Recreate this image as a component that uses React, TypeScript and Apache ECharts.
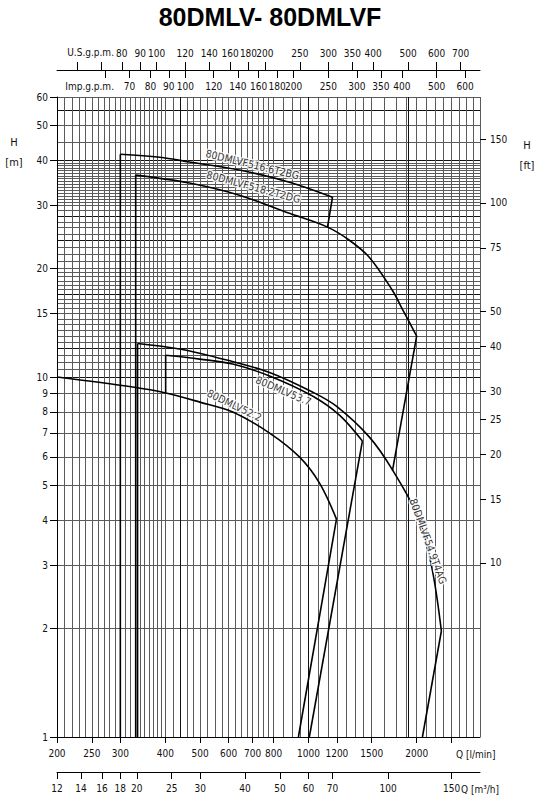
import { useEffect, useRef } from 'react';
import * as echarts from 'echarts';

// Q in l/min, H in m; both axes are logarithmic
const flowRange = [200, 3000];
const headRange = [1, 60];

const lpmTicks = [200, 250, 300, 400, 500, 600, 700, 800, 1000, 1200, 1500, 2000, 2500];
const lpmLabels = [200, 250, 300, 400, 500, 600, 700, 800, 1000, 1200, 1500, 2000];
const m3hTicks = [12, 14, 16, 18, 20, 25, 30, 40, 50, 60, 70, 100, 150];
const usTicks = [60, 70, 80, 90, 100, 120, 140, 160, 180, 200, 250, 300, 350, 400, 500, 600, 700];
const usLabels = [80, 90, 100, 120, 140, 160, 180, 200, 250, 300, 350, 400, 500, 600, 700];
const impTicks = [60, 70, 80, 90, 100, 120, 140, 160, 180, 200, 250, 300, 350, 400, 500, 600];
const impLabels = [70, 80, 90, 100, 120, 140, 160, 180, 200, 250, 300, 350, 400, 500, 600];
const mTicks = [1, 2, 3, 4, 5, 6, 7, 8, 9, 10, 15, 20, 30, 40, 50, 60];
const ftTicks = [10, 15, 20, 25, 30, 40, 50, 75, 100, 150];

// unit factors from l/min and m
const M3H = 0.06;
const US = 0.264172;
const IMP = 0.219969;
const FT = 3.28084;

// pump curves [Q l/min, H m]
const vf516Curve = [[300, 41.6], [386, 40.8], [467, 39.6], [643, 37.6], [886, 34.8], [1167, 31.6]];
const vf516Lines = [[[300, 1], [300, 41.6]], [[1167, 31.6], [1130, 26.1]]];

const vf518Curve = [[331, 36.4], [467, 34.6], [643, 32.0], [886, 28.5], [1130, 26.1], [1300, 24.0], [1478, 21.5], [1713, 17.4], [1828, 15.4], [2000, 13.0]];
const vf518Lines = [[[331, 1], [331, 36.4]], [[2000, 13.0], [1713, 5.5]]];

const vf549Curve = [[335, 12.4], [438, 11.97], [593, 11.15], [780, 10.3], [1026, 9.09], [1196, 8.3], [1478, 6.81], [1713, 5.52], [2035, 4.01], [2211, 2.91], [2343, 1.97]];
const vf549Lines = [[[335, 1], [335, 12.4]], [[2343, 1.97], [2075, 1]]];

const v537Curve = [[401, 11.5], [499, 11.22], [616, 10.87], [780, 10.07], [1026, 8.86], [1220, 7.84], [1413, 6.64]];
const v537Lines = [[[401, 9.03], [401, 11.5]], [[1413, 6.64], [1006, 1]]];

const v522Curve = [[200, 10], [325, 9.38], [401, 9.03], [499, 8.52], [616, 8.0], [780, 6.99], [944, 6.0], [1073, 5.08], [1197, 4.03]];
const v522Lines = [[[1197, 4.03], [938, 1]]];

const curveNames = ['80DMLVF516.6T2BG', '80DMLVF518.2T2DG', '80DMLV53.7', '80DMLV52.2', '80DMLVF54.9T4AG'];
const labelFlow = [699, 704, 853, 623, 2156];
const labelHead = [39.0, 33.8, 9.17, 8.36, 3.5];
const labelAngle = [-13.7, -15.2, -23, -25.7, -70];

const steps = (a: number, b: number, s: number) => {
  const out: number[] = [];
  for (let v = a; v < b - 1e-9; v += s) out.push(+v.toFixed(3));
  return out;
};

const flowGrid = [
  ...steps(200, 400, 10), ...steps(400, 500, 20), ...steps(500, 800, 25), ...steps(800, 1000, 50),
  1000, 1067, 1133, ...steps(1200, 1500, 75), ...steps(1500, 3000, 125), 3000,
];
const flowGridDark = [440, 1000, 1900];
const headGrid = [
  ...steps(1, 10, 1), ...steps(10, 20, 0.5), ...steps(20, 30, 1), ...steps(30, 40, 0.625), ...steps(40, 60, 5), 60,
];
const headGridDark = [10, 12, 17, 24, 28, 40, 55];

const lg = Math.log10;
const NARROW = "'Liberation Sans Narrow', 'Arial Narrow', 'DejaVu Sans Condensed', sans-serif";
const pt = (p: number[]) => [lg(p[0]), lg(p[1])];
const fmt = (v: number) => String(Math.round(Math.pow(10, v)));
const labelFont = { fontFamily: NARROW, fontSize: 10, color: '#111', hideOverlap: false };

function scaleAxis(min: number, max: number, extra: any) {
  return {
    type: 'value',
    min: lg(min),
    max: lg(max),
    axisLine: { show: true, onZero: false, lineStyle: { color: '#000', width: 1 } },
    splitLine: { show: false },
    ...extra,
  };
}

function gridAxis(min: number, max: number, values: number[], color: string, extra: any) {
  return {
    type: 'value',
    min: lg(min),
    max: lg(max),
    axisLine: { show: false, onZero: false },
    axisTick: { show: false, customValues: values.map(lg) },
    axisLabel: { show: false },
    splitLine: { show: true, lineStyle: { color, width: 1 } },
    ...extra,
  };
}

function line(data: number[][], smooth: number | boolean) {
  return {
    type: 'line',
    xAxisIndex: 0,
    yAxisIndex: 0,
    data: data.map(pt),
    symbol: 'none',
    smooth,
    silent: true,
    z: 5,
    lineStyle: { color: '#000', width: 1.6 },
  };
}

export default function App() {
  const ref = useRef<HTMLDivElement>(null);

  useEffect(() => {
    if (!ref.current) return;
    const chart = echarts.init(ref.current, null, { renderer: 'svg' });

    const series: any[] = [];
    [vf516Curve, vf518Curve, vf549Curve, v537Curve, v522Curve].forEach((c) => series.push(line(c, 0.35)));
    [...vf516Lines, ...vf518Lines, ...vf549Lines, ...v537Lines, ...v522Lines].forEach((s) => series.push(line(s, false)));
    series.push({
      type: 'scatter',
      xAxisIndex: 0,
      yAxisIndex: 0,
      symbolSize: 1,
      silent: true,
      z: 6,
      itemStyle: { color: 'transparent' },
      data: curveNames.map((n, i) => ({
        name: n,
        value: pt([labelFlow[i], labelHead[i]]),
        label: { rotate: labelAngle[i] },
      })),
      label: {
        show: true,
        position: 'inside',
        formatter: '{b}',
        fontFamily: NARROW,
        fontSize: 10.5,
        color: '#000',
        textBorderColor: '#fff',
        textBorderWidth: 3,
      },
    });

    const txt = (text: string, x: number, y: number, align: string, size = 11) => ({
      type: 'text',
      x,
      y,
      silent: true,
      style: { text, x: 0, y: 0, align, verticalAlign: 'middle', font: `${size}px ${NARROW}`, fill: '#111' },
    });

    chart.setOption({
      animation: false,
      backgroundColor: '#fff',
      grid: { left: 57, top: 97, width: 423, height: 640, containLabel: false, outerBoundsMode: 'none' },
      xAxis: [
        scaleAxis(flowRange[0], flowRange[1], {
          position: 'bottom',
          axisTick: { customValues: lpmTicks.map(lg), length: 6, lineStyle: { color: '#000' } },
          axisLabel: { customValues: lpmLabels.map(lg), formatter: fmt, margin: 11, ...labelFont },
        }),
        scaleAxis(flowRange[0] * M3H, flowRange[1] * M3H, {
          position: 'bottom',
          offset: 35,
          axisTick: { customValues: m3hTicks.map(lg), length: 7, lineStyle: { color: '#000' } },
          axisLabel: { customValues: m3hTicks.map(lg), formatter: fmt, margin: 11, ...labelFont },
        }),
        scaleAxis(flowRange[0] * US, flowRange[1] * US, {
          position: 'top',
          offset: 27,
          axisTick: { customValues: usTicks.map(lg), length: 8, lineStyle: { color: '#000' } },
          axisLabel: { customValues: usLabels.map(lg), formatter: fmt, margin: 12, ...labelFont },
        }),
        scaleAxis(flowRange[0] * IMP, flowRange[1] * IMP, {
          position: 'top',
          offset: 27,
          axisLine: { show: false, onZero: false },
          axisTick: { customValues: impTicks.map(lg), inside: true, length: 8, lineStyle: { color: '#000' } },
          axisLabel: { customValues: impLabels.map(lg), inside: true, formatter: fmt, margin: 11, ...labelFont },
        }),
        gridAxis(flowRange[0], flowRange[1], flowGrid, '#5a5a5a', { position: 'bottom' }),
        gridAxis(flowRange[0], flowRange[1], flowGridDark, '#111', { position: 'bottom' }),
      ],
      yAxis: [
        scaleAxis(headRange[0], headRange[1], {
          position: 'left',
          axisTick: { customValues: mTicks.map(lg), length: 7, lineStyle: { color: '#000' } },
          axisLabel: { customValues: mTicks.map(lg), formatter: fmt, margin: 9, ...labelFont },
        }),
        scaleAxis(headRange[0] * FT, headRange[1] * FT, {
          position: 'right',
          axisLine: { show: false, onZero: false },
          axisTick: { customValues: ftTicks.map(lg), length: 6, lineStyle: { color: '#000' } },
          axisLabel: { customValues: ftTicks.map(lg), formatter: fmt, margin: 10, ...labelFont },
        }),
        gridAxis(headRange[0], headRange[1], headGrid, '#5a5a5a', { position: 'left' }),
        gridAxis(headRange[0], headRange[1], headGridDark, '#111', { position: 'left' }),
      ],
      graphic: [
        {
          type: 'text',
          x: 270,
          y: 17,
          silent: true,
          style: {
            text: '80DMLV- 80DMLVF',
            align: 'center',
            verticalAlign: 'middle',
            font: 'bold 25px "Liberation Sans", Arial, sans-serif',
            fill: '#000',
          },
        },
        txt('U.S.g.p.m.', 114, 52, 'right', 10),
        txt('Imp.g.p.m.', 114, 86, 'right', 10),
        txt('Q [l/min]', 456, 754, 'left', 10),
        txt('Q [m³/h]', 461, 789, 'left', 10),
        txt('H', 14, 142, 'center'),
        txt('[m]', 14, 162, 'center'),
        txt('H', 527, 145, 'center'),
        txt('[ft]', 527, 165, 'center'),
      ],
      series,
    });

    return () => {
      chart.dispose();
    };
  }, []);

  return (
    <div
      ref={ref}
      style={{ position: 'absolute', left: 0, top: 0, width: 539, height: 800, background: '#fff' }}
    />
  );
}
